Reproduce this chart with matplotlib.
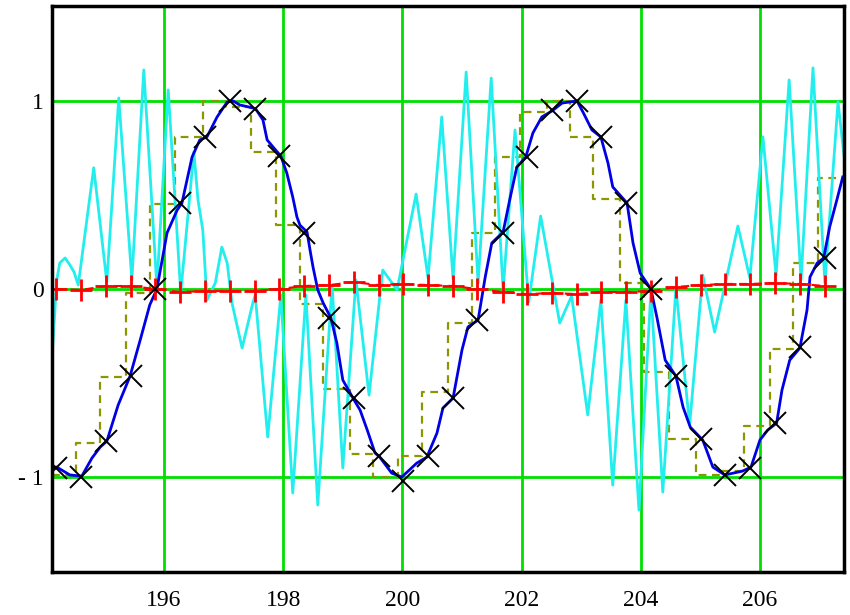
import numpy as np
import matplotlib.pyplot as plt

# sample instants (black x markers) and their values
sample_t = [194.19, 194.61, 195.02, 195.44, 195.85, 196.27, 196.69, 197.10,
            197.52, 197.93, 198.35, 198.77, 199.18, 199.60, 200.01, 200.43,
            200.85, 201.26, 201.68, 202.09, 202.51, 202.93, 203.34, 203.76,
            204.17, 204.59, 205.01, 205.42, 205.84, 206.25, 206.67, 207.09]
sample_y = [-0.95, -1.00, -0.81, -0.46, 0.00, 0.46, 0.81, 1.00,
            0.96, 0.71, 0.30, -0.155, -0.58, -0.89, -1.02, -0.89,
            -0.58, -0.165, 0.30, 0.70, 0.95, 1.00, 0.81, 0.46,
            0.00, -0.46, -0.80, -0.99, -0.95, -0.71, -0.31, 0.165]

# error at each sample (red +)
err_y = [0.0, -0.005, 0.016, 0.016, 0.0, -0.016, -0.011, -0.011,
         -0.011, 0.0, 0.016, 0.021, 0.037, 0.021, 0.027, 0.021,
         0.016, 0.0, -0.016, -0.027, -0.021, -0.027, -0.016, -0.016,
         -0.011, 0.011, 0.021, 0.027, 0.027, 0.032, 0.027, 0.016]

# held output (olive dashed staircase): start of each hold and its level
hold_t = [194.12, 194.52, 194.93, 195.36, 195.76, 196.18, 196.65, 197.04,
          197.46, 197.88, 198.28, 198.67, 199.12, 199.51, 199.93, 200.33,
          200.76, 201.17, 201.55, 201.97, 202.43, 202.81, 203.20, 203.65,
          204.05, 204.47, 204.93, 205.33, 205.73, 206.17, 206.55, 206.97]
hold_y = [-0.99, -0.82, -0.47, -0.02, 0.45, 0.81, 1.00, 0.97,
          0.73, 0.34, -0.08, -0.53, -0.88, -1.00, -0.89, -0.55,
          -0.18, 0.30, 0.70, 0.94, 1.00, 0.81, 0.48, 0.03,
          -0.44, -0.80, -0.99, -0.97, -0.73, -0.32, 0.14, 0.59]

# continuous signal (blue)
sig_t = [194.12, 194.20, 194.42, 194.62, 194.79, 194.93, 195.04, 195.23,
         195.43, 195.60, 195.76, 195.88, 196.05, 196.22, 196.30, 196.47,
         196.60, 196.72, 196.89, 197.06, 197.16, 197.27, 197.49, 197.54,
         197.66, 197.73, 197.83, 197.96, 198.06, 198.16, 198.23, 198.28,
         198.40, 198.45, 198.50, 198.58, 198.67, 198.80, 198.90, 199.00,
         199.17, 199.29, 199.41, 199.54, 199.62, 199.82, 199.99, 200.24,
         200.41, 200.58, 200.68, 200.85, 201.00, 201.10, 201.27, 201.39,
         201.50, 201.69, 201.80, 201.92, 202.07, 202.19, 202.34, 202.51,
         202.68, 202.93, 203.03, 203.18, 203.33, 203.45, 203.53, 203.77,
         203.87, 203.99, 204.17, 204.27, 204.41, 204.59, 204.71, 204.83,
         205.04, 205.21, 205.41, 205.71, 205.85, 206.00, 206.13, 206.28,
         206.37, 206.50, 206.67, 206.79, 206.84, 206.96, 207.07, 207.17,
         207.29, 207.39]
sig_y = [-0.947, -0.947, -0.989, -0.995, -0.899, -0.840, -0.809, -0.617,
         -0.463, -0.271, -0.085, 0.0, 0.298, 0.420, 0.457, 0.702,
         0.793, 0.809, 0.915, 0.995, 1.0, 0.979, 0.963, 0.957,
         0.899, 0.793, 0.755, 0.707, 0.617, 0.489, 0.383, 0.340,
         0.303, 0.207, 0.117, -0.005, -0.074, -0.154, -0.287, -0.484,
         -0.580, -0.644, -0.750, -0.872, -0.894, -0.979, -1.0, -0.926,
         -0.894, -0.766, -0.633, -0.580, -0.324, -0.202, -0.165, 0.064,
         0.245, 0.303, 0.473, 0.649, 0.702, 0.830, 0.915, 0.947,
         0.989, 1.0, 0.941, 0.846, 0.809, 0.670, 0.543, 0.457,
         0.245, 0.085, 0.0, -0.149, -0.378, -0.463, -0.628, -0.734,
         -0.803, -0.947, -0.989, -0.968, -0.947, -0.803, -0.750, -0.713,
         -0.537, -0.378, -0.314, -0.112, 0.064, 0.138, 0.165, 0.330,
         0.473, 0.596]

# oscillating trace (cyan)
osc_t = [194.12, 194.20, 194.25, 194.34, 194.42, 194.49, 194.56, 194.82,
         195.04, 195.24, 195.46, 195.66, 195.88, 196.07, 196.28, 196.50,
         196.57, 196.65, 196.72, 196.86, 196.97, 197.06, 197.14, 197.31,
         197.49, 197.53, 197.74, 197.96, 198.16, 198.38, 198.58, 198.82,
         199.00, 199.22, 199.44, 199.67, 199.91, 200.23, 200.43, 200.66,
         200.85, 201.07, 201.27, 201.49, 201.69, 201.89, 202.12, 202.32,
         202.64, 202.84, 203.11, 203.33, 203.53, 203.75, 203.97, 204.17,
         204.37, 204.59, 204.82, 205.04, 205.24, 205.63, 205.83, 206.05,
         206.27, 206.49, 206.69, 206.89, 207.09, 207.31, 207.41]
osc_y = [-0.362, 0.048, 0.138, 0.165, 0.128, 0.090, 0.021, 0.645,
         0.037, 1.016, 0.048, 1.165, 0.011, 1.059, -0.021, 0.729,
         0.473, 0.314, -0.059, 0.032, 0.223, 0.138, -0.074, -0.314,
         -0.074, -0.032, -0.787, -0.032, -1.085, -0.032, -1.149, 0.021,
         -0.952, 0.048, -0.564, 0.101, -0.005, 0.505, 0.059, 0.915,
         0.053, 1.154, 0.032, 1.122, -0.005, 0.846, -0.069, 0.388,
         -0.181, -0.037, -0.670, -0.059, -1.043, -0.059, -1.176, -0.011,
         -1.080, 0.005, -0.723, 0.074, -0.229, 0.335, 0.059, 0.809,
         0.074, 1.112, 0.048, 1.176, 0.032, 0.995, 0.713]

x_ticks = [196, 198, 200, 202, 204, 206]
y_ticks = [-1, 0, 1]
y_tick_labels = ['- 1', '0', '1']

plt.rcParams['font.family'] = ['Liberation Serif', 'DejaVu Serif']

fig = plt.figure(figsize=(8.5, 6.15), dpi=100)
ax = fig.add_axes([0.0612, 0.0699, 0.9317, 0.9203])

# grid in green
for xv in x_ticks:
    ax.axvline(xv, color='#00e000', lw=2, zorder=1)
for yv in y_ticks:
    ax.axhline(yv, color='#00e000', lw=2, zorder=1)

# held staircase, extended to the right edge
ht = list(hold_t) + [207.45]
hy = list(hold_y) + [hold_y[-1]]
ax.step(ht, hy, where='post', color='#8c9600', lw=1.6,
        linestyle=(0, (3.5, 2.5)), zorder=2)

ax.plot(osc_t, osc_y, color='#22eeee', lw=2, zorder=3,
        solid_joinstyle='round')
ax.plot(sig_t, sig_y, color='#0000e6', lw=2, zorder=4)

ax.plot(sample_t, err_y, color='red', lw=1.5, linestyle=(0, (4, 3)),
        marker='+', markersize=16, markeredgewidth=2, zorder=5)
ax.plot(sample_t, sample_y, linestyle='none', marker='x', color='black',
        markersize=16, markeredgewidth=1.4, zorder=6)

ax.set_xlim(194.12, 207.41)
ax.set_ylim(-1.505, 1.505)
ax.set_xticks(x_ticks)
ax.set_yticks(y_ticks)
ax.set_yticklabels(y_tick_labels)
ax.tick_params(length=0, labelsize=17)
ax.tick_params(axis='x', pad=13)
ax.tick_params(axis='y', pad=6)
for s in ax.spines.values():
    s.set_linewidth(2.5)
    s.set_zorder(10)

fig.savefig('out.png', dpi=100)
